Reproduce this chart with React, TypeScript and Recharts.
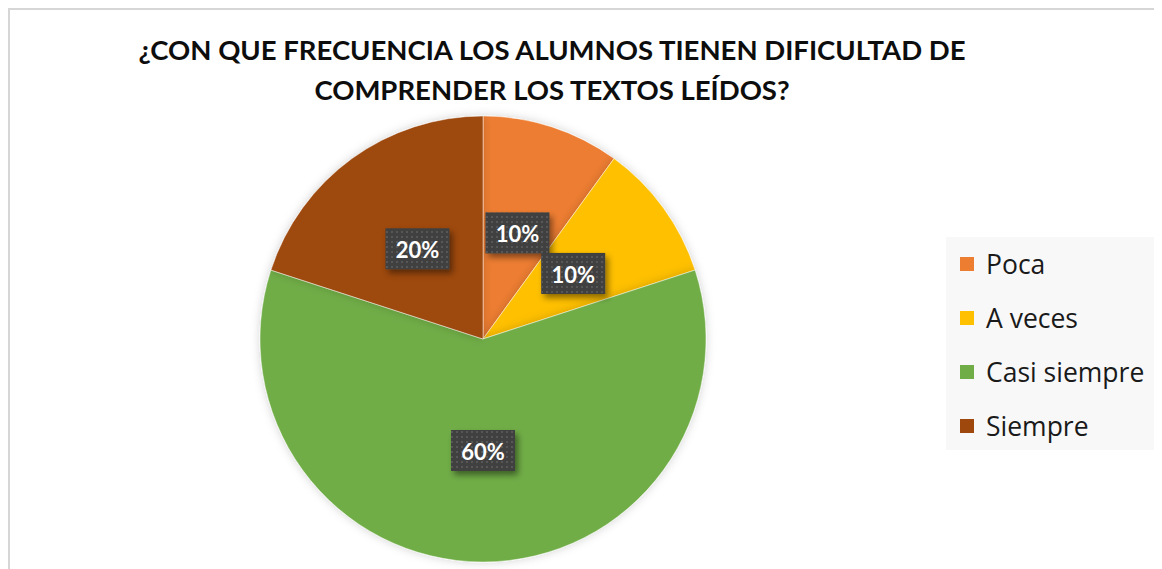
import { PieChart, Pie, Cell, Legend } from 'recharts';

const categories = ['Poca', 'A veces', 'Casi siempre', 'Siempre'];
const values = [10, 10, 60, 20];
const colors = ['#ED7D31', '#FFC000', '#70AD47', '#9E480E'];
const titleLines = [
  '¿CON QUE FRECUENCIA LOS ALUMNOS TIENEN DIFICULTAD DE',
  'COMPRENDER LOS TEXTOS LEÍDOS?',
];

const data = categories.map((name, i) => ({ name, value: values[i] }));

const RAD = Math.PI / 180;

const renderLabel = (props: any) => {
  const { cx, cy, midAngle, outerRadius, percent } = props;
  const r = outerRadius * 0.5;
  const x = cx + r * Math.cos(-midAngle * RAD);
  const y = cy + r * Math.sin(-midAngle * RAD);
  const w = 64;
  const h = 41;
  return (
    <g>
      <rect x={x - w / 2} y={y - h / 2} width={w} height={h} fill="#404040" filter="url(#lblShadow)" />
      <rect x={x - w / 2} y={y - h / 2} width={w} height={h} fill="url(#dots)" />
      <text
        x={x}
        y={y + 1}
        textAnchor="middle"
        dominantBaseline="central"
        fill="#ffffff"
        fontFamily="Lato, sans-serif"
        fontWeight={700}
        fontSize={22}
      >
        {`${Math.round(percent * 100)}%`}
      </text>
    </g>
  );
};

// legend drawn in the category order (recharts sorts the payload by name)
const renderLegend = () => (
  <div
    style={{
      background: '#f8f8f8',
      width: 216,
      height: 213,
      boxSizing: 'border-box',
      paddingLeft: 14,
      fontFamily: '"Open Sans", sans-serif',
      fontSize: 26.5,
      color: '#1a1a1a',
    }}
  >
    {categories.map((name, i) => (
      <div key={name} style={{ display: 'flex', alignItems: 'center', height: 54 }}>
        <span style={{ width: 14, height: 14, background: colors[i], marginRight: 12, display: 'inline-block' }} />
        <span>{name}</span>
      </div>
    ))}
  </div>
);

export default function App() {
  return (
    <div
      style={{
        position: 'relative',
        width: 1160,
        height: 565,
        borderLeft: '2px solid #d6d6d6',
        borderTop: '2px solid #d6d6d6',
        background: '#fff',
      }}
    >
      <svg width={0} height={0} style={{ position: 'absolute' }}>
        <defs>
          <pattern id="dots" width={5} height={5} patternUnits="userSpaceOnUse">
            <rect x={1} y={1} width={2} height={2} fill="#575757" />
          </pattern>
          <filter id="lblShadow" x="-30%" y="-30%" width="170%" height="180%">
            <feDropShadow dx={3} dy={4} stdDeviation={3} floodColor="#000" floodOpacity={0.45} />
          </filter>
          <filter id="pieShadow" x="-10%" y="-10%" width="120%" height="120%">
            <feDropShadow dx={0} dy={0} stdDeviation={5} floodColor="#000" floodOpacity={0.18} />
          </filter>
        </defs>
      </svg>
      <div
        style={{
          position: 'absolute',
          left: 0,
          top: 20,
          width: 1084,
          textAlign: 'center',
          fontFamily: 'Lato, sans-serif',
          fontWeight: 700,
          fontSize: 27.5,
          lineHeight: '40px',
          color: '#0d0d0d',
          zIndex: 2,
        }}
      >
        {titleLines.map((t) => (
          <div key={t}>{t}</div>
        ))}
      </div>
      <PieChart width={1158} height={563} margin={{ top: 0, right: 0, bottom: 0, left: 0 }}>
        <Pie
          data={data}
          dataKey="value"
          nameKey="name"
          cx={473}
          cy={329}
          outerRadius={223}
          startAngle={90}
          endAngle={-270}
          stroke="rgba(255,255,255,0.45)"
          strokeWidth={1}
          label={renderLabel}
          labelLine={false}
          isAnimationActive={false}
          style={{ filter: 'url(#pieShadow)' }}
        >
          {data.map((d, i) => (
            <Cell key={d.name} fill={colors[i]} />
          ))}
        </Pie>
        <Legend
          layout="vertical"
          content={renderLegend}
          wrapperStyle={{ position: 'absolute', left: 936, top: 227, width: 216 }}
        />
      </PieChart>
    </div>
  );
}
